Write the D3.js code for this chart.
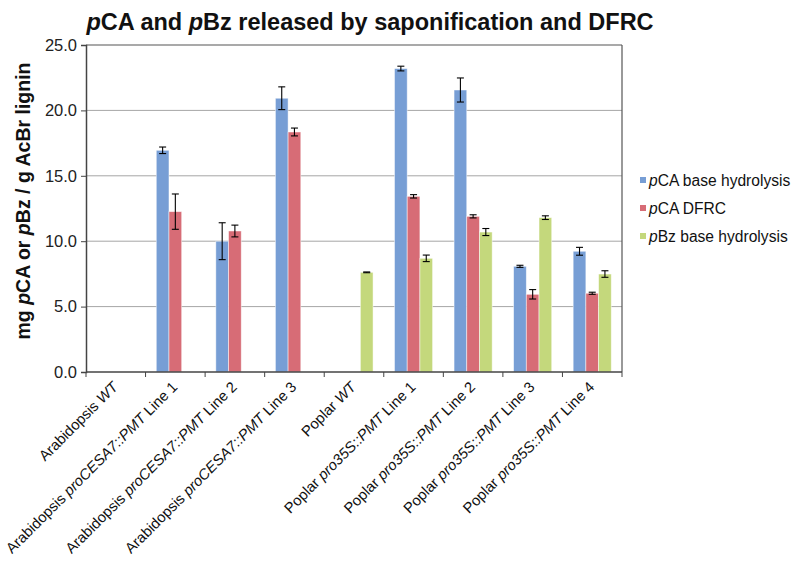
<!DOCTYPE html>
<html>
<head>
<meta charset="utf-8">
<script src="https://cdn.jsdelivr.net/npm/d3@7"></script>
<style>
  html, body { margin: 0; padding: 0; background: #fff; }
  svg { display: block; font-family: "Liberation Sans", Arial, sans-serif; }
</style>
</head>
<body>
<svg id="chart" width="793" height="565"></svg>
<script>
// ---- data ----
const categories = [
  "Arabidopsis WT",
  "Arabidopsis proCESA7::PMT Line 1",
  "Arabidopsis proCESA7::PMT Line 2",
  "Arabidopsis proCESA7::PMT Line 3",
  "Poplar WT",
  "Poplar pro35S::PMT Line 1",
  "Poplar pro35S::PMT Line 2",
  "Poplar pro35S::PMT Line 3",
  "Poplar pro35S::PMT Line 4"
];
const seriesNames = ["pCA base hydrolysis", "pCA DFRC", "pBz base hydrolysis"];
const pcaBase     = [null, 16.95, 10.0, 20.93, null, 23.2, 21.56, 8.08, 9.23];
const pcaBaseErr  = [null, 0.25, 1.41, 0.87, null, 0.18, 0.92, 0.08, 0.3];
const pcaDfrc     = [null, 12.26, 10.78, 18.35, null, 13.43, 11.9, 5.94, 6.02];
const pcaDfrcErr  = [null, 1.35, 0.45, 0.3, null, 0.13, 0.12, 0.36, 0.08];
const pbzBase     = [null, null, null, null, 7.62, 8.69, 10.7, 11.8, 7.49];
const pbzBaseErr  = [null, null, null, null, 0.03, 0.25, 0.27, 0.14, 0.25];
const yTicks = [0, 5, 10, 15, 20, 25];
const colors = ["#779ed5", "#d76c76", "#c4d87c"];
const italicParts = /(WT|proCESA7::PMT|pro35S::PMT)/;

// ---- layout ----
const svg = d3.select("#chart");
const L = 86, R = 622, T = 45, B = 372;

const x = d3.scaleBand().domain(categories).range([L, R]).padding(0);
const groupW = x.bandwidth() * 0.64;
const x1 = d3.scaleBand().domain(seriesNames).range([0, groupW]).padding(0);
const y = d3.scaleLinear().domain([0, 25]).range([B, T]);

const values = [pcaBase, pcaDfrc, pbzBase];
const errs = [pcaBaseErr, pcaDfrcErr, pbzBaseErr];

// gridlines
svg.append("g").selectAll("line").data(yTicks.filter(d => d > 0 && d < 25)).join("line")
  .attr("x1", L).attr("x2", R).attr("y1", d => y(d)).attr("y2", d => y(d))
  .attr("stroke", "#a6a6a6").attr("stroke-width", 1);

// bars
const bars = [];
categories.forEach((c, i) => {
  seriesNames.forEach((s, j) => {
    if (values[j][i] != null) bars.push({c, s, j, v: values[j][i], e: errs[j][i]});
  });
});
const gx = c => x(c) + (x.bandwidth() - groupW) / 2;

svg.append("g").selectAll("rect").data(bars).join("rect")
  .attr("x", d => gx(d.c) + x1(d.s))
  .attr("width", x1.bandwidth())
  .attr("y", d => y(d.v))
  .attr("height", d => B - y(d.v))
  .attr("fill", d => colors[d.j])
  .attr("stroke", "#ffffff").attr("stroke-opacity", 0.6).attr("stroke-width", 0.8);

// error bars
const eg = svg.append("g").attr("stroke", "#000").attr("stroke-width", 1.1);
bars.filter(d => d.e != null).forEach(d => {
  const cx = gx(d.c) + x1(d.s) + x1.bandwidth() / 2;
  const y1 = y(d.v + d.e), y2 = y(d.v - d.e);
  eg.append("line").attr("x1", cx).attr("x2", cx).attr("y1", y1).attr("y2", y2);
  eg.append("line").attr("x1", cx - 3.5).attr("x2", cx + 3.5).attr("y1", y1).attr("y2", y1);
  eg.append("line").attr("x1", cx - 3.5).attr("x2", cx + 3.5).attr("y1", y2).attr("y2", y2);
});

// frame: top and right
svg.append("line").attr("x1", L).attr("x2", R).attr("y1", T).attr("y2", T).attr("stroke", "#555").attr("stroke-width", 1.2);
svg.append("line").attr("x1", R).attr("x2", R).attr("y1", T).attr("y2", B).attr("stroke", "#555").attr("stroke-width", 1.2);

// y axis
const yAxis = svg.append("g").attr("transform", `translate(${L},0)`)
  .call(d3.axisLeft(y).tickValues(yTicks).tickFormat(d3.format(".1f")).tickSize(5).tickPadding(4));
yAxis.select(".domain").attr("stroke", "#444").attr("stroke-width", 1.5);
yAxis.selectAll(".tick line").attr("stroke", "#444");
yAxis.selectAll("text").attr("font-size", 16.5).attr("fill", "#222")
  .attr("font-family", "Liberation Sans, Arial, sans-serif");

// x axis (ticks at category boundaries)
const xg = svg.append("g");
xg.append("line").attr("x1", L).attr("x2", R).attr("y1", B).attr("y2", B).attr("stroke", "#444").attr("stroke-width", 1.5);
const bounds = categories.map(c => x(c)).concat([R]);
xg.selectAll("line.t").data(bounds).join("line").attr("class", "t")
  .attr("x1", d => d).attr("x2", d => d).attr("y1", B).attr("y2", B + 5).attr("stroke", "#444");

// x labels
categories.forEach(c => {
  const cx = x(c) + x.bandwidth() / 2 + 3;
  const t = svg.append("text")
    .attr("transform", `translate(${cx},${B + 16}) rotate(-45)`)
    .attr("text-anchor", "end")
    .attr("font-size", 14.8).attr("fill", "#111");
  c.split(italicParts).filter(p => p.length).forEach(p => {
    const m = p.match(italicParts);
    t.append("tspan").text(p).attr("font-style", m && m[0] === p ? "italic" : null);
  });
});

// title
const title = svg.append("text").attr("x", 370).attr("y", 30)
  .attr("text-anchor", "middle").attr("font-size", 23.5).attr("font-weight", "bold").attr("fill", "#111");
[["p", true], ["CA and ", false], ["p", true], ["Bz released by saponification and DFRC", false]].forEach(([s, it]) => {
  title.append("tspan").text(s).attr("font-style", it ? "italic" : null);
});

// y label
const yl = svg.append("text").attr("transform", `translate(30,201) rotate(-90)`)
  .attr("text-anchor", "middle").attr("font-size", 19.5).attr("font-weight", "bold").attr("fill", "#111");
[["mg ", false], ["p", true], ["CA or ", false], ["p", true], ["Bz / g AcBr lignin", false]].forEach(([s, it]) => {
  yl.append("tspan").text(s).attr("font-style", it ? "italic" : null);
});

// legend
const lg = svg.append("g");
seriesNames.forEach((s, j) => {
  const cy = 180 + j * 28;
  lg.append("rect").attr("x", 640).attr("y", cy - 3).attr("width", 6).attr("height", 6).attr("fill", colors[j]);
  const t = lg.append("text").attr("x", 649).attr("y", cy + 5.5).attr("font-size", 15.6).attr("fill", "#111");
  t.append("tspan").text(s[0]).attr("font-style", "italic");
  t.append("tspan").text(s.slice(1));
});
</script>
</body>
</html>
